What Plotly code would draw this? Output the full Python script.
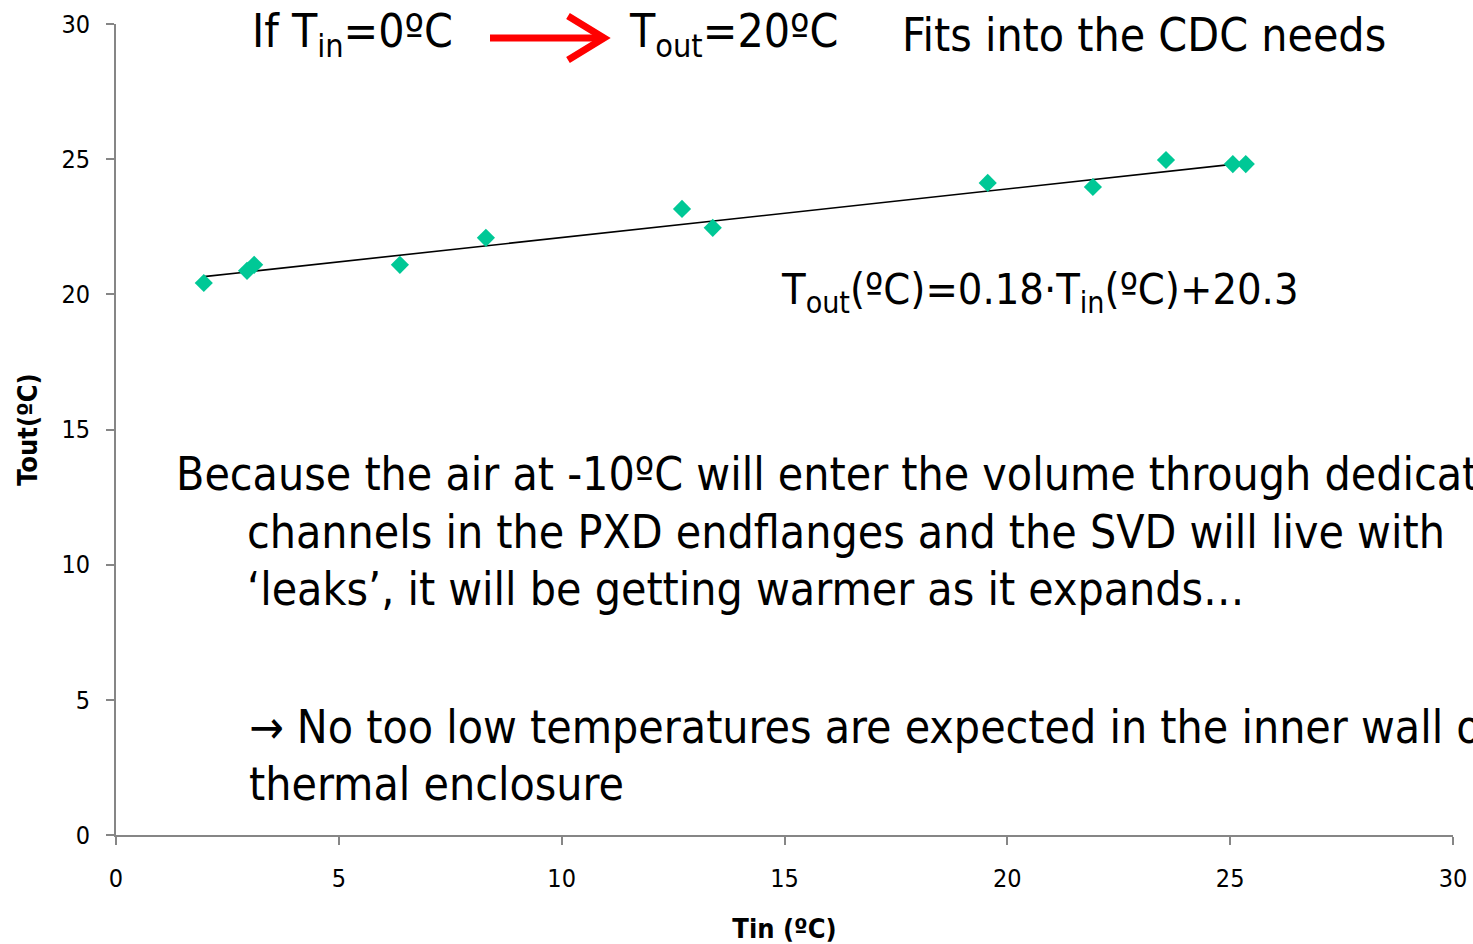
import plotly.graph_objects as go
import numpy as np

# Data
tin = [1.97, 2.94, 3.10, 6.37, 8.30, 12.70, 13.39, 19.56, 21.92, 23.56, 25.06, 25.35]
tout = [20.42, 20.87, 21.09, 21.09, 22.09, 23.16, 22.46, 24.12, 23.97, 24.97, 24.82, 24.82]
slope = 0.18
intercept = 20.3
x_ticks = [0, 5, 10, 15, 20, 25, 30]
y_ticks = [0, 5, 10, 15, 20, 25, 30]

FONT = "DejaVu Sans Condensed, Liberation Sans Narrow, DejaVu Sans, sans-serif"

fit_x = np.array([min(tin), max(tin)])
fit_y = slope * fit_x + intercept

fig = go.Figure()
fig.add_trace(go.Scatter(x=fit_x, y=fit_y, mode="lines",
                         line=dict(color="black", width=1.6), showlegend=False))
fig.add_trace(go.Scatter(x=tin, y=tout, mode="markers",
                         marker=dict(symbol="diamond", size=14, color="#00C896"),
                         showlegend=False))

axis_common = dict(showgrid=False, zeroline=False, showline=True, linecolor="#868686",
                   linewidth=2, ticks="outside", tickcolor="#868686", ticklen=8, tickwidth=1.5,
                   automargin=False,
                   tickfont=dict(family=FONT, size=25, color="black"))

fig.update_xaxes(range=[0, 30], tickvals=x_ticks, ticklabelstandoff=12, **axis_common,
                 title=dict(text="<b>Tin (ºC)</b>", font=dict(family=FONT, size=27, color="black"), standoff=33))
fig.update_yaxes(range=[0, 30], tickvals=y_ticks, ticklabelstandoff=11, **axis_common,
                 title=dict(text="<b>Tout(ºC)</b>", font=dict(family=FONT, size=27, color="black"), standoff=16))

big = dict(family=FONT, size=46, color="black")
eqf = dict(family=FONT, size=43, color="black")
texts = [
    ("If T<sub>in</sub>=0ºC", 3.0, 29.6, big),
    ("T<sub>out</sub>=20ºC", 11.47, 29.6, big),
    ("Fits into the CDC needs", 17.6, 29.6, big),
    ("T<sub>out</sub>(ºC)=0.18·T<sub>in</sub>(ºC)+20.3", 14.88, 20.1, eqf),
    ("Because the air at -10ºC will enter the volume through dedicated", 1.3, 13.36, big),
    ("channels in the PXD endflanges and the SVD will live with", 2.9, 11.21, big),
    ("‘leaks’, it will be getting warmer as it expands…", 2.9, 9.1, big),
    ("→ No too low temperatures are expected in the inner wall of the", 2.95, 4.0, big),
    ("thermal enclosure", 2.95, 1.9, big),
]
for t, x, y, f in texts:
    fig.add_annotation(text=t, x=x, y=y, xref="x", yref="y", showarrow=False,
                       xanchor="left", yanchor="middle", font=f)

# red arrow (decoration, placed in paper coordinates)
def px(p):
    return (p - 116) / 1337
def py(p):
    return (835 - p) / 811
fig.add_shape(type="line", xref="paper", yref="paper", x0=px(490), x1=px(600), y0=py(38), y1=py(38),
              line=dict(color="#FF0000", width=7))
fig.add_shape(type="path", xref="paper", yref="paper",
              path=f"M {px(568)} {py(16)} L {px(604)} {py(38)} L {px(568)} {py(60)}",
              line=dict(color="#FF0000", width=7))

fig.update_layout(width=1473, height=944, plot_bgcolor="white", paper_bgcolor="white",
                  margin=dict(l=116, r=20, t=24, b=109), font=dict(family=FONT))
fig.write_html("out.html", config={"displayModeBar": False},
               post_script="document.body.style.margin='0';document.body.style.overflow='hidden';")
